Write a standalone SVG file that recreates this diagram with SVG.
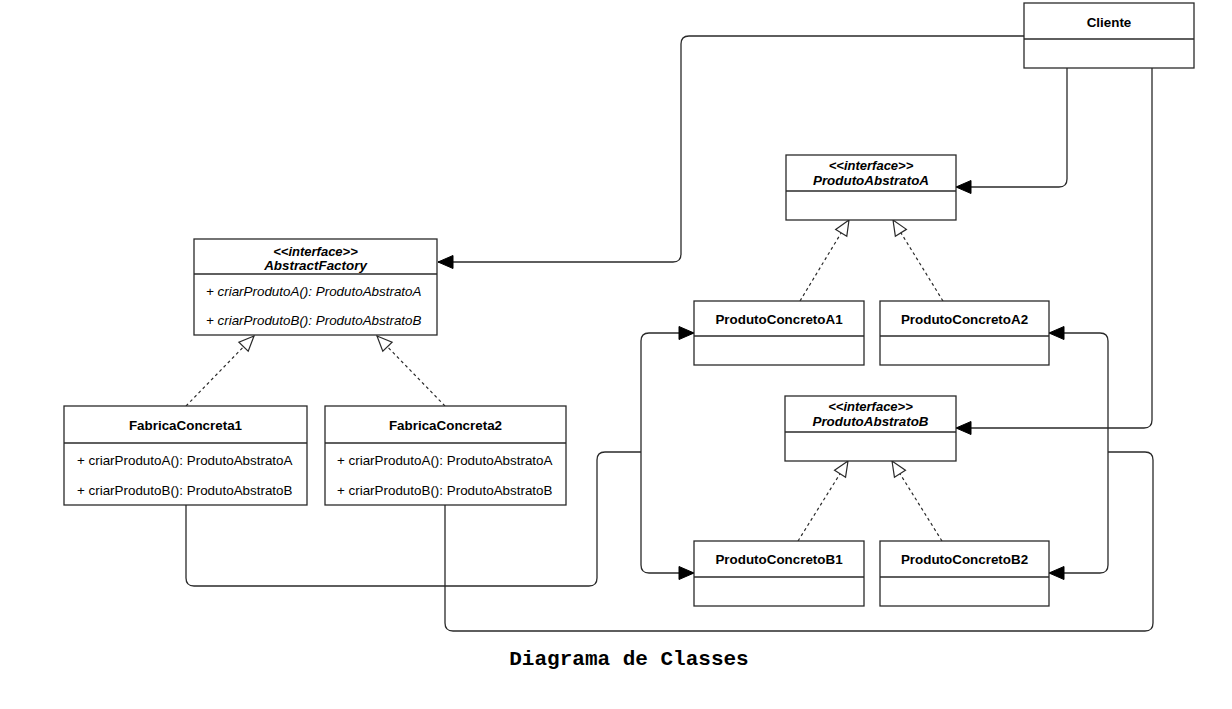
<svg xmlns="http://www.w3.org/2000/svg" width="1232" height="709" viewBox="0 0 1232 709">
<style>
.box{fill:#fff;stroke:#2a2a2a;stroke-width:1.3}
.div{stroke:#2a2a2a;stroke-width:1.3}
.t{font-family:"Liberation Sans",Arial,sans-serif;font-size:13.4px;fill:#000}
.b{font-weight:bold}
.i{font-style:italic}
.c{text-anchor:middle}
.st{font-size:13px}
.edge{fill:none;stroke:#2a2a2a;stroke-width:1.3}
.dash{fill:none;stroke:#2a2a2a;stroke-width:1.2;stroke-dasharray:3 3}
.title{font-family:"Liberation Mono","Courier New",monospace;font-weight:bold;font-size:21px;text-anchor:middle;fill:#000}
</style>
<defs>
<marker id="arrow" viewBox="-17 -8 19 16" refX="0" refY="0" markerWidth="19" markerHeight="16" markerUnits="userSpaceOnUse" orient="auto">
<path d="M0,0 L-15,-6.5 L-15,6.5 Z" fill="#000" stroke="#000" stroke-width="1"/>
</marker>
<marker id="tri" viewBox="-17 -8 19 16" refX="0" refY="0" markerWidth="19" markerHeight="16" markerUnits="userSpaceOnUse" orient="auto">
<path d="M0,0 L-15,-6.5 L-15,6.5 Z" fill="#fff" stroke="#2a2a2a" stroke-width="1.2"/>
</marker>
</defs>
<rect width="1232" height="709" fill="#fff"/>

<g id="connectors">
<path class="edge" d="M1024,36 H689 Q681,36 681,44 V254 Q681,262 673,262 H438" marker-end="url(#arrow)"/>
<path class="edge" d="M1067,68 V179 Q1067,187 1059,187 H956" marker-end="url(#arrow)"/>
<path class="edge" d="M1152,68 V420 Q1152,428 1144,428 H956" marker-end="url(#arrow)"/>
<path class="edge" d="M186,505 V578 Q186,586 194,586 H589 Q597,586 597,578 V460 Q597,452 605,452 H641"/>
<path class="edge" d="M641,452 V341 Q641,333 649,333 H694" marker-end="url(#arrow)"/>
<path class="edge" d="M641,452 V565 Q641,573 649,573 H694" marker-end="url(#arrow)"/>
<path class="edge" d="M445,505 V623 Q445,631 453,631 H1145 Q1153,631 1153,623 V460 Q1153,452 1145,452 H1108"/>
<path class="edge" d="M1108,452 V341 Q1108,333 1100,333 H1049" marker-end="url(#arrow)"/>
<path class="edge" d="M1108,452 V565 Q1108,573 1100,573 H1049" marker-end="url(#arrow)"/>
<path class="dash" d="M186,406 L254,336" marker-end="url(#tri)"/>
<path class="dash" d="M445,406 L377,336" marker-end="url(#tri)"/>
<path class="dash" d="M800,301 L849,220" marker-end="url(#tri)"/>
<path class="dash" d="M943,301 L893,220" marker-end="url(#tri)"/>
<path class="dash" d="M798,541 L848,461" marker-end="url(#tri)"/>
<path class="dash" d="M942,541 L892,461" marker-end="url(#tri)"/>
</g>

<g id="cliente">
<rect class="box" x="1024" y="3" width="170" height="65"/>
<line class="div" x1="1024" y1="39" x2="1194" y2="39"/>
<text class="t b c" x="1109" y="27">Cliente</text>
</g>

<g id="abstractfactory">
<rect class="box" x="194" y="239" width="243" height="96"/>
<line class="div" x1="194" y1="274" x2="437" y2="274"/>
<text class="t b i c st" x="315.5" y="256">&lt;&lt;interface&gt;&gt;</text>
<text class="t b i c" x="315.5" y="270">AbstractFactory</text>
<text class="t i" x="206" y="296">+ criarProdutoA(): ProdutoAbstratoA</text>
<text class="t i" x="206" y="325">+ criarProdutoB(): ProdutoAbstratoB</text>
</g>

<g id="fabricaconcreta1">
<rect class="box" x="64" y="406" width="243" height="99"/>
<line class="div" x1="64" y1="443" x2="307" y2="443"/>
<text class="t b c" x="185.5" y="430">FabricaConcreta1</text>
<text class="t" x="77" y="465">+ criarProdutoA(): ProdutoAbstratoA</text>
<text class="t" x="77" y="495">+ criarProdutoB(): ProdutoAbstratoB</text>
</g>

<g id="fabricaconcreta2">
<rect class="box" x="325" y="406" width="241" height="99"/>
<line class="div" x1="325" y1="443" x2="566" y2="443"/>
<text class="t b c" x="445.5" y="430">FabricaConcreta2</text>
<text class="t" x="337" y="465">+ criarProdutoA(): ProdutoAbstratoA</text>
<text class="t" x="337" y="495">+ criarProdutoB(): ProdutoAbstratoB</text>
</g>

<g id="produtoabstratoa">
<rect class="box" x="786" y="155" width="170" height="65"/>
<line class="div" x1="786" y1="191" x2="956" y2="191"/>
<text class="t b i c st" x="871" y="170">&lt;&lt;interface&gt;&gt;</text>
<text class="t b i c" x="871" y="185">ProdutoAbstratoA</text>
</g>

<g id="produtoconcretoa1">
<rect class="box" x="694" y="301" width="170" height="64"/>
<line class="div" x1="694" y1="336" x2="864" y2="336"/>
<text class="t b c" x="779" y="324">ProdutoConcretoA1</text>
</g>

<g id="produtoconcretoa2">
<rect class="box" x="880" y="301" width="169" height="64"/>
<line class="div" x1="880" y1="336" x2="1049" y2="336"/>
<text class="t b c" x="964.5" y="324">ProdutoConcretoA2</text>
</g>

<g id="produtoabstratob">
<rect class="box" x="785" y="396" width="171" height="65"/>
<line class="div" x1="785" y1="432" x2="956" y2="432"/>
<text class="t b i c st" x="870.5" y="411">&lt;&lt;interface&gt;&gt;</text>
<text class="t b i c" x="870.5" y="426">ProdutoAbstratoB</text>
</g>

<g id="produtoconcretob1">
<rect class="box" x="694" y="541" width="170" height="65"/>
<line class="div" x1="694" y1="577" x2="864" y2="577"/>
<text class="t b c" x="779" y="564">ProdutoConcretoB1</text>
</g>

<g id="produtoconcretob2">
<rect class="box" x="880" y="541" width="169" height="65"/>
<line class="div" x1="880" y1="577" x2="1049" y2="577"/>
<text class="t b c" x="964.5" y="564">ProdutoConcretoB2</text>
</g>

<text class="title" x="629" y="665">Diagrama de Classes</text>
</svg>
